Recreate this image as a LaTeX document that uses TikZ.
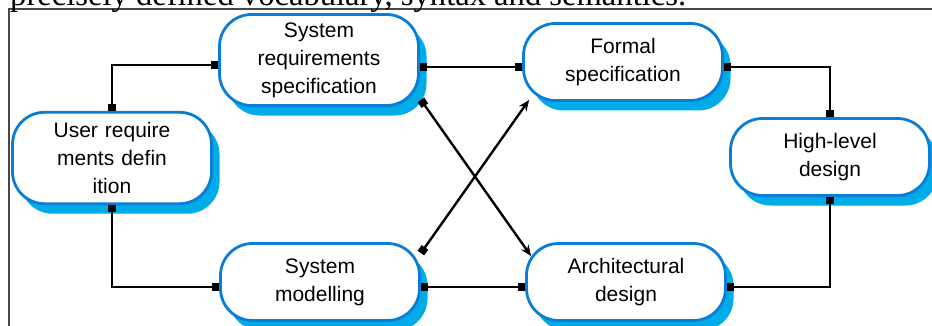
\documentclass[tikz,border=0pt]{standalone}
\usepackage{fontspec}
\setmainfont{Liberation Sans}
\newfontfamily\serifcap{Liberation Serif}
\usetikzlibrary{arrows.meta, shadows}
\definecolor{boxblue}{RGB}{10,125,215}
\definecolor{shadeblue}{RGB}{0,172,232}
\definecolor{framegray}{RGB}{70,70,70}
\tikzstyle{stage} = [rectangle, rounded corners=32pt, minimum width=199pt, minimum height=77pt, text width=180pt, align=center, draw=boxblue, line width=2.8pt, fill=white, font=\fontsize{21}{28}\selectfont, drop shadow={shadow xshift=8pt, shadow yshift=-10pt, fill=shadeblue, opacity=1}]
\tikzstyle{link} = [line width=2.4pt, {Square[length=7pt,width=8pt]}-{Square[length=7pt,width=8pt]}]
\tikzstyle{cross} = [line width=2.4pt, {Square[length=7pt,width=8pt]}-{Stealth[length=11pt,width=9pt]}]

\begin{document}
\begin{tikzpicture}[x=1pt, y=-1pt, node distance=304pt]
		\useasboundingbox (0,0) rectangle (932,326);
		\draw [framegray, line width=1.6pt] (9,340) -- (9,9) -- (945,9);
		\node (caption) [anchor=base west, inner sep=0pt, font=\serifcap\fontsize{32.6}{36}\selectfont] at (10,6) {precisely defined vocabulary, syntax and semantics.};
		\node (srs) [stage, inner ysep=8pt] at (319,60) {System\\requirements\\specification};
		\node (fs) [stage, right of = srs, yshift = -2pt] {Formal\\specification};
		\node (ur) [stage, inner ysep=10pt, left of = srs, xshift = 97pt, yshift = -98pt] {User require\\ments defin\\ition};
		\node (hld) [stage, right of = fs, xshift = -97pt, yshift = -95pt] {High-level\\design};
		\node (sm) [stage, below of = srs, xshift = 1pt, yshift = 82pt] {System\\modelling};
		\node (ad) [stage, right of = sm, xshift = 2pt] {Architectural\\design};
		\draw [link] ([yshift=-5pt]srs.west) -| (ur.north);
		\draw [link] (ur.south) |- ([yshift=-5pt]sm.west);
		\draw [link] ([yshift=-7pt]srs.east) -- ([yshift=-5pt]fs.west);
		\draw [link] ([yshift=-5pt]fs.east) -| (hld.north);
		\draw [link] (hld.south) |- ([yshift=-5pt]ad.east);
		\draw [link] ([yshift=-5pt]sm.east) -- ([yshift=-5pt]ad.west);
		\draw [cross] ([xshift=1pt, yshift=7pt]srs.south east) -- ([xshift=6pt, yshift=-14pt]ad.north west);
		\draw [cross] ([yshift=-11pt]sm.north east) -- ([xshift=7pt, yshift=2pt]fs.south west);
	\end{tikzpicture}
\end{document}
